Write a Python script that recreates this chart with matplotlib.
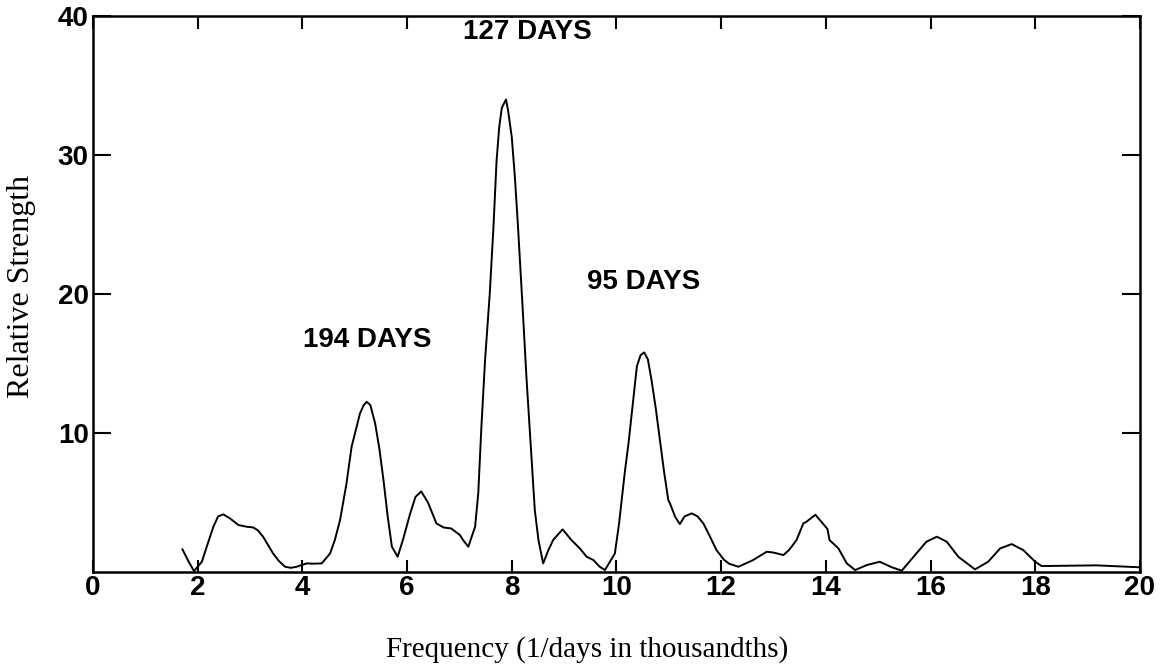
import numpy as np
import matplotlib.pyplot as plt

# periodogram trace, frequency in 1/days (x1000) vs relative strength
freq = [1.71, 1.82, 1.93, 2.08, 2.18, 2.30, 2.39, 2.49, 2.62, 2.78, 2.95,
        3.06, 3.15, 3.25, 3.44, 3.55, 3.67, 3.78, 3.89, 4.08, 4.22, 4.37,
        4.53, 4.62, 4.72, 4.84, 4.94, 5.10, 5.17, 5.23, 5.30, 5.39, 5.47,
        5.55, 5.63, 5.71, 5.82, 5.92, 6.06, 6.16, 6.27, 6.40, 6.56, 6.70,
        6.84, 7.01, 7.07, 7.17, 7.30, 7.36, 7.42, 7.49, 7.58, 7.65, 7.71,
        7.76, 7.81, 7.89, 7.93, 8.00, 8.06, 8.12, 8.21, 8.28, 8.38, 8.44,
        8.51, 8.60, 8.70, 8.79, 8.97, 9.14, 9.30, 9.43, 9.56, 9.68, 9.78,
        9.97, 10.05, 10.10, 10.16, 10.23, 10.31, 10.39, 10.46, 10.53, 10.60,
        10.67, 10.75, 10.83, 10.91, 10.99, 11.02, 11.12, 11.21, 11.30, 11.44,
        11.55, 11.66, 11.78, 11.91, 12.05, 12.15, 12.33, 12.61, 12.87, 13.00,
        13.19, 13.30, 13.44, 13.57, 13.63, 13.80, 14.03, 14.07, 14.24, 14.40,
        14.56, 14.78, 15.03, 15.26, 15.45, 15.73, 15.92, 16.12, 16.31, 16.53,
        16.85, 17.10, 17.33, 17.55, 17.77, 18.00, 18.12, 19.17, 20.00]
strength = [1.63, 0.80, 0.07, 0.74, 1.90, 3.26, 4.00, 4.15, 3.85, 3.38, 3.25,
            3.21, 3.00, 2.54, 1.34, 0.80, 0.38, 0.30, 0.38, 0.62, 0.60, 0.62,
            1.34, 2.30, 3.74, 6.30, 9.00, 11.40, 12.00, 12.25, 12.00, 10.70, 8.90,
            6.60, 4.00, 1.82, 1.10, 2.30, 4.22, 5.40, 5.80, 5.00, 3.50, 3.20,
            3.14, 2.66, 2.30, 1.82, 3.26, 5.66, 10.45, 15.25, 20.05, 24.80, 29.60,
            32.00, 33.40, 34.00, 33.20, 31.30, 28.40, 24.80, 18.85, 14.05, 8.06, 4.46,
            2.30, 0.62, 1.58, 2.30, 3.07, 2.30, 1.70, 1.10, 0.86, 0.38, 0.14,
            1.34, 3.50, 5.18, 7.20, 9.26, 12.00, 14.80, 15.60, 15.80, 15.30,
            13.80, 11.80, 9.50, 7.20, 5.18, 4.96, 3.98, 3.45, 4.00, 4.22,
            4.00, 3.50, 2.60, 1.58, 0.90, 0.60, 0.38, 0.86, 1.46, 1.40,
            1.22, 1.60, 2.30, 3.50, 3.62, 4.12, 3.10, 2.30, 1.70, 0.62,
            0.14, 0.50, 0.74, 0.34, 0.10, 1.34, 2.18, 2.54, 2.18, 1.10,
            0.19, 0.74, 1.70, 2.01, 1.58, 0.74, 0.43, 0.48, 0.34]

peak_labels = ["194 DAYS", "127 DAYS", "95 DAYS"]
label_x = [5.24, 8.30, 10.51]
label_y = [16.7, 38.85, 20.9]

fig = plt.figure(figsize=(11.65, 6.71), dpi=100)
ax = fig.add_axes([0.0798, 0.1475, 0.8987, 0.8285])

ax.plot(freq, strength, color="black", linewidth=1.4, solid_joinstyle="round")

for txt, lx, ly in zip(peak_labels, label_x, label_y):
    ax.text(lx, ly, txt, ha="center", va="center", fontsize=20,
            family="Liberation Sans", fontweight="bold", zorder=5,
            bbox=dict(facecolor="white", edgecolor="none", pad=0.5))

ax.set_xlim(0, 20)
ax.set_ylim(0, 40)
ax.set_xticks(np.arange(0, 21, 2))
ax.set_yticks([10, 20, 30, 40])
ax.tick_params(axis="x", direction="in", length=9, width=1.5, top=True,
               labelsize=20, pad=2)
ax.tick_params(axis="y", direction="in", length=13, width=1.5, right=True,
               labelsize=20, pad=3)
for lbl in ax.get_xticklabels() + ax.get_yticklabels():
    lbl.set_fontfamily("Liberation Sans")
    lbl.set_fontweight("bold")
for sp in ax.spines.values():
    sp.set_linewidth(1.8)

ax.set_xlabel("Frequency (1/days in thousandths)", family="Liberation Serif",
              fontsize=21)
ax.xaxis.set_label_coords(0.472, -0.115)
ax.set_ylabel("Relative Strength", family="Liberation Serif", fontsize=23)
ax.yaxis.set_label_coords(-0.054, 0.513)

fig.savefig("out.png", dpi=100)
